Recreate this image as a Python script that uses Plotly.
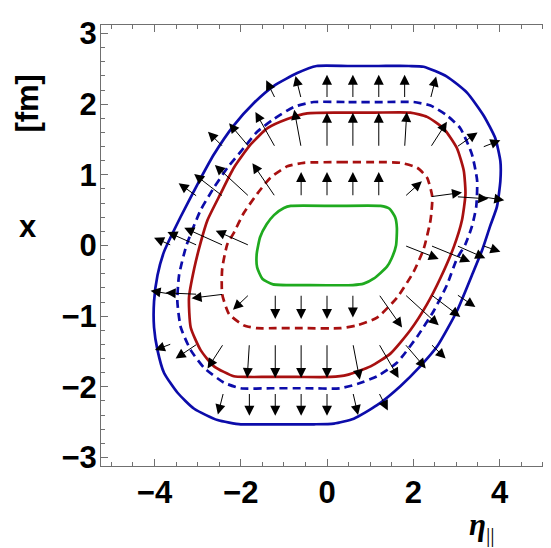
import plotly.graph_objects as go

# contour lines (eta_parallel, x [fm])
blue_eta = [-0.24, 0.5, 1.2, 1.9, 2.24, 2.78, 3.25, 3.63, 3.90, 4.02, 4.02, 3.94, 3.78, 3.60, 3.36, 3.01,
            2.55, 2.16, 1.70, 1.16, 0.62, 0.16, -0.3, -1.0, -1.6, -2.0, -2.54, -3.08, -3.47, -3.78, -3.93,
            -4.01, -4.01, -3.93, -3.78, -3.60, -3.39, -3.00, -2.62, -2.16, -1.69, -1.23, -0.69]
blue_x = [2.54, 2.54, 2.54, 2.54, 2.53, 2.39, 2.16, 1.84, 1.52, 1.19, 0.92, 0.55, 0.27, -0.06, -0.42, -0.93,
          -1.43, -1.71, -1.99, -2.26, -2.45, -2.52, -2.53, -2.53, -2.53, -2.53, -2.47, -2.31, -2.08, -1.80, -1.48,
          -1.16, -0.79, -0.42, -0.09, 0.15, 0.41, 0.87, 1.29, 1.70, 2.02, 2.26, 2.44]

bdash_eta = [-0.31, 0.5, 1.3, 2.01, 2.40, 2.78, 3.09, 3.36, 3.48, 3.46, 3.36, 3.21, 3.01, 2.78, 2.47, 2.09,
             1.62, 1.16, 0.70, 0.3, -0.5, -1.3, -2.00, -2.39, -2.85, -3.16, -3.39, -3.47, -3.43, -3.26,
             -2.93, -2.62, -2.31, -1.93, -1.62, -1.23, -0.77]
bdash_x = [2.03, 2.03, 2.03, 2.03, 1.98, 1.84, 1.66, 1.29, 0.92, 0.55, 0.27, 0.02, -0.19, -0.56, -0.93, -1.29,
           -1.66, -1.85, -1.96, -2.02, -2.02, -2.02, -2.02, -1.94, -1.73, -1.48, -1.16, -0.79, -0.42, 0.0,
           0.50, 0.82, 1.10, 1.38, 1.61, 1.79, 1.96]

red_eta = [-0.46, 0.3, 1.1, 1.93, 2.32, 2.70, 3.01, 3.17, 3.21, 3.13, 2.94, 2.63, 2.32, 1.93, 1.47, 1.01,
           0.47, 0.08, -0.7, -1.4, -1.85, -2.16, -2.62, -2.93, -3.16, -3.20, -3.08, -2.93, -2.77, -2.47,
           -2.16, -1.77, -1.38, -0.92]
red_x = [1.87, 1.88, 1.88, 1.88, 1.82, 1.66, 1.38, 1.06, 0.73, 0.36, -0.02, -0.46, -0.83, -1.20, -1.53, -1.71,
         -1.83, -1.86, -1.86, -1.86, -1.86, -1.85, -1.71, -1.48, -1.16, -0.74, -0.33, 0.04, 0.36, 0.73,
         1.10, 1.43, 1.66, 1.79]

rdash_eta = [-0.54, 0.3, 1.2, 1.70, 2.09, 2.32, 2.44, 2.40, 2.24, 2.01, 1.62, 1.16, 0.70, 0.31, -0.5, -1.2,
             -1.62, -1.93, -2.27, -2.43, -2.43, -2.31, -2.16, -1.93, -1.62, -1.31, -0.92]
rdash_x = [1.17, 1.18, 1.18, 1.17, 1.10, 0.96, 0.69, 0.36, -0.05, -0.37, -0.74, -1.02, -1.13, -1.17, -1.17, -1.17,
           -1.17, -1.13, -0.97, -0.69, -0.33, 0.02, 0.18, 0.46, 0.73, 0.96, 1.12]

green_eta = [-0.84, 0.2, 1.24, 1.45, 1.58, 1.62, 1.60, 1.50, 1.39, 1.08, 0.85, 0.6, -0.4, -1.25, -1.50,
             -1.62, -1.63, -1.55, -1.40, -1.23, -1.0]
green_x = [0.56, 0.56, 0.56, 0.52, 0.40, 0.25, 0.0, -0.18, -0.30, -0.47, -0.54, -0.56, -0.56, -0.55, -0.47,
           -0.31, -0.12, 0.12, 0.30, 0.43, 0.53]

# flow arrows: tail position and vector, row by row
arrow_eta = [-1.2, -0.6, 0.0, 0.6, 1.2, 1.8, 2.4,
             -2.4, -1.8, -1.2, -0.6, 0.0, 0.6, 1.2, 1.8, 2.4, 3.0, 3.6,
             -3.0, -2.4, -1.8, -1.2, -0.6, 0.0, 0.6, 1.2, 1.8, 2.4, 3.0, 3.6,
             -3.6, -3.0, -2.4, -1.8, 1.8, 2.4, 3.0, 3.6,
             -3.6, -3.0, -2.4, -1.8, -1.2, -0.6, 0.0, 0.6, 1.2, 1.8, 2.4, 3.0,
             -3.6, -3.0, -2.4, -1.8, -1.2, -0.6, 0.0, 0.6, 1.2, 1.8, 2.4,
             -2.4, -1.8, -1.2, -0.6, 0.0, 0.6, 1.2]
arrow_x = [2.08] * 7 + [1.39] * 11 + [0.69] * 12 + [0.0] * 8 + [-0.69] * 12 + [-1.39] * 11 + [-2.08] * 7
arrow_deta = [-0.21, -0.13, 0.0, 0.0, 0.0, 0.0, 0.13,
              -0.36, -0.47, -0.46, -0.16, 0.0, 0.0, 0.0, 0.05, 0.38, 0.49, 0.42,
              -0.44, -0.68, -0.80, -0.53, 0.0, 0.0, 0.0, 0.0, 0.40, 0.73, 0.74, 0.51,
              -0.41, -0.70, -0.91, -0.78, 0.79, 0.92, 0.67, 0.42,
              -0.49, -0.74, -0.74, -0.38, 0.0, 0.0, 0.0, 0.0, 0.54, 0.79, 0.69, 0.44,
              -0.39, -0.51, -0.37, -0.05, 0.0, 0.0, 0.0, 0.16, 0.46, 0.49, 0.35,
              -0.13, 0.0, 0.0, 0.0, 0.0, 0.12, 0.21]
arrow_dx = [0.26, 0.32, 0.335, 0.335, 0.335, 0.335, 0.31,
            0.22, 0.34, 0.50, 0.53, 0.49, 0.49, 0.49, 0.50, 0.36, 0.21, 0.10,
            0.19, 0.32, 0.45, 0.475, 0.35, 0.35, 0.35, 0.35, 0.22, 0.06, -0.03, -0.05,
            0.11, 0.19, 0.25, 0.21, -0.19, -0.23, -0.18, -0.09,
            0.05, 0.02, -0.055, -0.22, -0.35, -0.35, -0.35, -0.33, -0.47, -0.44, -0.32, -0.18,
            -0.09, -0.21, -0.35, -0.485, -0.485, -0.485, -0.485, -0.51, -0.485, -0.35, -0.21,
            -0.31, -0.33, -0.33, -0.33, -0.33, -0.32, -0.255]

BLUE = '#0c0caa'
RED = '#a81010'
GREEN = '#1faa1f'
FRAME = '#707070'

fig = go.Figure()

curves = [
    (blue_eta, blue_x, BLUE, 'solid'),
    (bdash_eta, bdash_x, BLUE, '8px,5px'),
    (red_eta, red_x, RED, 'solid'),
    (rdash_eta, rdash_x, RED, '8px,5px'),
    (green_eta, green_x, GREEN, 'solid'),
]
for eta, xs, col, dash in curves:
    fig.add_trace(go.Scatter(
        x=eta + [eta[0]], y=xs + [xs[0]],
        mode='lines',
        line=dict(color=col, width=2.7, dash=dash, shape='spline', smoothing=0.55),
        hoverinfo='skip', showlegend=False
    ))

for e, x, de, dx in zip(arrow_eta, arrow_x, arrow_deta, arrow_dx):
    fig.add_annotation(
        x=e + de, y=x + dx, ax=e, ay=x,
        xref='x', yref='y', axref='x', ayref='y',
        text='', showarrow=True, arrowhead=2, arrowsize=2.0,
        arrowwidth=1, arrowcolor='black', standoff=0
    )

tickfont = dict(family='Liberation Sans', size=31, color='black', weight='bold')
axis_common = dict(
    ticks='inside', tickcolor=FRAME, tickwidth=1, ticklen=7,
    showline=True, linecolor=FRAME, linewidth=1, mirror='allticks',
    showgrid=False, zeroline=False, tickfont=tickfont, ticklabeloverflow='allow',
)

# page body has an 8px margin, so the figure is shifted down/right by that amount
fig.update_layout(
    width=551, height=548,
    margin=dict(l=93, r=9, t=8, b=90),
    plot_bgcolor='white', paper_bgcolor='white',
    xaxis=dict(range=[-5.24, 5.17], tick0=0, dtick=2, ticklabelstandoff=-1,
               minor=dict(dtick=0.5, ticklen=4, ticks='inside', tickcolor=FRAME), **axis_common),
    yaxis=dict(range=[-3.12, 3.12], tick0=0, dtick=1, ticklabelstandoff=-3,
               minor=dict(dtick=0.2, ticklen=4, ticks='inside', tickcolor=FRAME), **axis_common),
)

lab = dict(family='Liberation Sans', size=31, color='black', weight='bold')
# axis labels
fig.add_annotation(text='x', xref='paper', yref='paper', x=-0.1626, y=0.542,
                   xanchor='center', yanchor='middle', showarrow=False, font=lab)
fig.add_annotation(text='[fm]', xref='paper', yref='paper', x=-0.1626, y=0.824, textangle=-90,
                   xanchor='center', yanchor='middle', showarrow=False, font=lab)
fig.add_annotation(text='<b><i>η</i></b><sub>||</sub>', xref='paper', yref='paper', x=0.848, y=-0.138,
                   xanchor='center', yanchor='middle', showarrow=False,
                   font=dict(family='Liberation Serif', size=31, color='black'))

fig.write_html('out.html')
